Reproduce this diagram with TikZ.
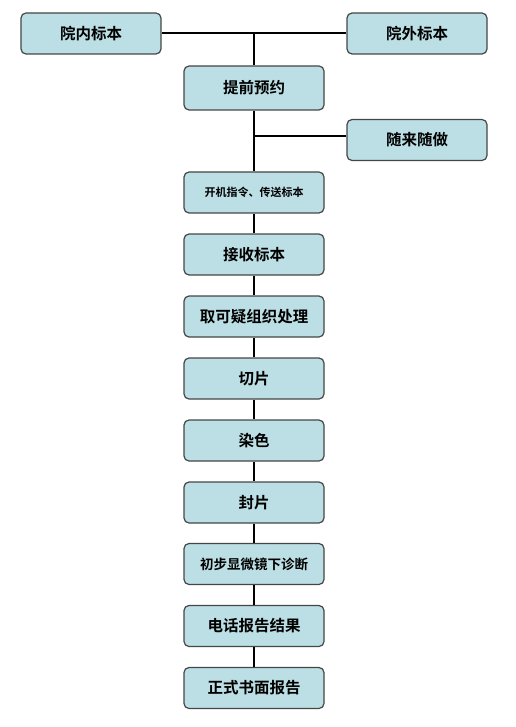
\documentclass[tikz,border=0pt]{standalone}
\usepackage{fontspec}
\newfontfamily\cjk{Noto Sans CJK SC}[BoldFont={* Bold}]
\definecolor{boxfill}{RGB}{187,223,228}
\definecolor{boxline}{RGB}{70,70,70}
\begin{document}
\begin{tikzpicture}[x=1pt,y=-1pt,
  box/.style={draw=boxline, line width=1.2pt, fill=boxfill, rounded corners=5pt,
    minimum width=140pt, minimum height=41pt, inner sep=0pt,
    font=\cjk\bfseries\fontsize{15.5}{16}\selectfont},
  small/.style={font=\cjk\bfseries\fontsize{11}{12}\selectfont},
  mid/.style={font=\cjk\bfseries\fontsize{13.5}{14}\selectfont},
  link/.style={draw=black, line width=2pt}]
\useasboundingbox (0,0) rectangle (515,727);
\node[box] (a) at (91,33.5) {院内标本};
\node[box] (b) at (417,33.5) {院外标本};
\node[box, minimum height=44pt] (c) at (254,88) {提前预约};
\node[box] (d) at (417,140) {随来随做};
\node[box, small] (e) at (254,192.5) {开机指令、传送标本};
\node[box] (f) at (254,254.5) {接收标本};
\node[box] (g) at (254,316.5) {取可疑组织处理};
\node[box] (h) at (254,378.5) {切片};
\node[box] (i) at (254,440.5) {染色};
\node[box] (j) at (254,502.5) {封片};
\node[box, mid] (k) at (254,564) {初步显微镜下诊断};
\node[box] (l) at (254,626) {电话报告结果};
\node[box] (m) at (254,688) {正式书面报告};
\coordinate (top) at (254,33.5);
\coordinate (br) at (254,136);
\draw[link] (a.east) -- (b.west);
\draw[link] (top) -- (c.north);
\draw[link] (c.south) -- (e.north);
\draw[link] (br) -- (br -| d.west);
\foreach \p/\q in {e/f,f/g,g/h,h/i,i/j,j/k,k/l,l/m}
  \draw[link] (\p.south) -- (\q.north);
\end{tikzpicture}
\end{document}
